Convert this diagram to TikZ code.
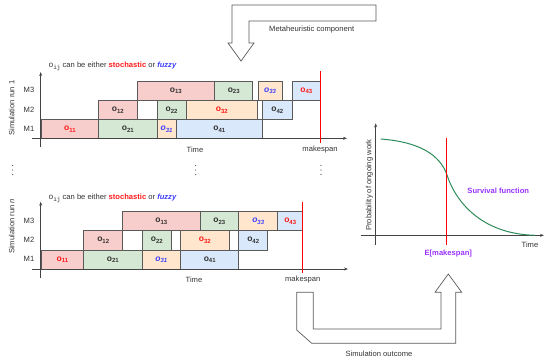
\documentclass[tikz,border=0pt]{standalone}
\usepackage{fontspec}
\setmainfont{Liberation Sans}
\setmonofont{Liberation Mono}
\usetikzlibrary{arrows.meta}
\definecolor{rfill}{HTML}{F8CECC}
\definecolor{gfill}{HTML}{D5E8D4}
\definecolor{ofill}{HTML}{FFE6CC}
\definecolor{bfill}{HTML}{DAE8FC}
\definecolor{barline}{HTML}{5A5A5A}
\definecolor{txtgray}{HTML}{333333}
\definecolor{lblred}{HTML}{FF1A1A}
\definecolor{fuzzyblue}{HTML}{3F3FFF}
\definecolor{purp}{HTML}{9933FF}
\definecolor{curvegreen}{HTML}{2E8B5A}
\definecolor{axisgray}{HTML}{444444}
\newcommand\osub[1]{o\raisebox{-0.4ex}{\fontsize{6}{6}\selectfont #1}}
\newcommand\gb[7]{\node[#1, minimum width={(#4-#3)*1pt}, minimum height={(#6-#5)*1pt}, anchor=north west] (#2) at (#3,#5) {#7};}
\newcommand\hdr{{\ttfamily\fontsize{8}{9}\selectfont o\raisebox{-0.45ex}{\fontsize{6}{6}\selectfont ij}} can be either {\color{lblred}\bfseries stochastic} or {\color{fuzzyblue}\bfseries\itshape fuzzy}}
\begin{document}
\begin{tikzpicture}[x=1pt,y=-1pt,
  every node/.style={font=\fontsize{7.6}{9}\selectfont, text=txtgray},
  barbase/.style={draw=barline, line width=0.8pt, inner sep=0pt, font=\fontsize{8.5}{9}\selectfont\bfseries, text=txtgray},
  rbar/.style={barbase, fill=rfill},
  gbar/.style={barbase, fill=gfill},
  obar/.style={barbase, fill=ofill},
  bbar/.style={barbase, fill=bfill},
  stoch/.style={text=lblred},
  fuz/.style={text=fuzzyblue, font=\fontsize{8.5}{9}\selectfont\bfseries\itshape},
  axis/.style={draw=axisgray, line width=0.7pt, -{Stealth[length=4pt,width=3pt]}},
  redline/.style={draw=red, line width=0.9pt},
  blockarrow/.style={draw=barline, line width=0.7pt, fill=white, line join=miter},
  purplab/.style={text=purp, font=\fontsize{7.6}{9}\selectfont\bfseries},
  dot/.style={fill=axisgray, circle, inner sep=0pt, minimum size=1.1pt}
]
\useasboundingbox (0,0) rectangle (550,362);

% top block arrow
\draw[blockarrow] (232,5) -- (376,5) -- (376,21) -- (249,21) -- (249,43) -- (254,43) -- (241,61) -- (228,43) -- (232,43) -- cycle;
\node (meta) at (311.7,30) {Metaheuristic component};

% ---------- Gantt run 1 ----------
\node[anchor=west] (hdr1) at (45,66.7) {\hdr};
\coordinate (y1b) at (40.7,147);
\coordinate (y1t) at (40.7,72);
\coordinate (x1l) at (32,138.3);
\coordinate (x1r) at (347,138.3);
\node (m3a) at (29,90.3) {M3};
\node (m2a) at (29,109.7) {M2};
\node (m1a) at (29,128.8) {M1};
\node[rotate=90] (sim1) at (11.7,108) {Simulation run 1};

\gb{rbar,stoch}{a11}{40.7}{98.3}{119.3}{138.3}{\osub{11}}
\gb{gbar}{a21}{98.3}{156.7}{119.3}{138.3}{\osub{21}}
\gb{obar,fuz}{a31}{156.7}{175.7}{119.3}{138.3}{\osub{31}}
\gb{bbar}{a41}{175.7}{262.3}{119.3}{138.3}{\osub{41}}
\gb{rbar}{a12}{98.3}{136.7}{100}{119.3}{\osub{12}}
\gb{gbar}{a22}{156.7}{185.7}{100}{119.3}{\osub{22}}
\gb{obar,stoch}{a32}{185.7}{257.3}{100}{119.3}{\osub{32}}
\gb{bbar}{a42}{262.3}{291.7}{100}{119.3}{\osub{42}}
\gb{rbar}{a13}{136.7}{214.3}{80.7}{100}{\osub{13}}
\gb{gbar}{a23}{214.3}{252.3}{80.7}{100}{\osub{23}}
\gb{obar,fuz}{a33}{257.7}{281.7}{80.7}{100}{\osub{33}}
\gb{bbar,stoch}{a43}{291.7}{320.3}{80.7}{100}{\osub{43}}

\draw[axis] (y1b) -- (y1t);
\draw[axis] (x1l) -- (x1r);
\coordinate (r1t) at (320.3,71);
\coordinate (r1b) at (320.3,142.7);
\draw[redline] (r1t) -- (r1b);
\node (time1) at (195,150) {Time};
\node (mk1) at (320,150) {makespan};

% vertical ellipses
\foreach \x/\n in {12.7/d1,195.7/d2,321/d3}{
  \node[dot] (\n a) at (\x,165.5) {};
  \node[dot] (\n b) at (\x,170) {};
  \node[dot] (\n c) at (\x,174.5) {};
}

% ---------- Gantt run n ----------
\node[anchor=west] (hdr2) at (45,198.3) {\hdr};
\coordinate (y2b) at (40.7,278);
\coordinate (y2t) at (40.7,201.7);
\coordinate (x2l) at (32,269);
\coordinate (x2r) at (348,269);
\node (m3b) at (29,220.7) {M3};
\node (m2b) at (29,240) {M2};
\node (m1b) at (29,259.3) {M1};
\node[rotate=90] (simn) at (11.7,226.5) {Simulation run \textit{n}};

\gb{rbar,stoch}{b11}{40.7}{83.3}{249.7}{269}{\osub{11}}
\gb{gbar}{b21}{83.3}{141.7}{249.7}{269}{\osub{21}}
\gb{obar,fuz}{b31}{141.7}{180.3}{249.7}{269}{\osub{31}}
\gb{bbar}{b41}{180.3}{238.3}{249.7}{269}{\osub{41}}
\gb{rbar}{b12}{83.3}{122.3}{230.3}{249.7}{\osub{12}}
\gb{gbar}{b22}{141.7}{171}{230.3}{249.7}{\osub{22}}
\gb{obar,stoch}{b32}{180.3}{228.7}{230.3}{249.7}{\osub{32}}
\gb{bbar}{b42}{238.3}{267.3}{230.3}{249.7}{\osub{42}}
\gb{rbar}{b13}{122.3}{199.7}{211}{230.3}{\osub{13}}
\gb{gbar}{b23}{199.7}{238.3}{211}{230.3}{\osub{23}}
\gb{obar,fuz}{b33}{238.3}{277.3}{211}{230.3}{\osub{33}}
\gb{bbar,stoch}{b43}{277.3}{302.3}{211}{230.3}{\osub{43}}

\draw[axis] (y2b) -- (y2t);
\draw[axis] (x2l) -- (x2r);
\coordinate (r2t) at (302.3,201.7);
\coordinate (r2b) at (302.3,273);
\draw[redline] (r2t) -- (r2b);
\node (time2) at (194,280) {Time};
\node (mk2) at (302.7,280) {makespan};

% ---------- Survival plot ----------
\coordinate (syb) at (375.7,245);
\coordinate (syt) at (375.7,123.3);
\coordinate (sxl) at (360.7,235.3);
\coordinate (sxr) at (544,235.3);
\draw[axis] (syb) -- (syt);
\draw[axis] (sxl) -- (sxr);
\draw[draw=curvegreen, line width=1pt] (380.7,139) .. controls (420,142) and (440,155) .. (447,175) .. controls (455,200) and (480,234) .. (535,235.3);
\coordinate (r3t) at (446.7,138.3);
\coordinate (r3b) at (446.7,245);
\draw[redline] (r3t) -- (r3b);
\node[rotate=90] (prob) at (369.3,185) {Probability of ongoing work};
\node[purplab] (surv) at (498.3,190.7) {Survival function};
\node (time3) at (530,245) {Time};
\node[purplab] (emk) at (448.3,254) {E[makespan]};

% bottom block arrow
\draw[blockarrow] (296.7,292.3) -- (313.3,292.3) -- (313.3,329) -- (441,329) -- (441,292.3) -- (435,292.3) -- (448.3,274) -- (461.7,292.3) -- (455.7,292.3) -- (455.7,343.3) -- (311.7,343.3) -- (296.7,330) -- cycle;
\node (simout) at (379,354) {Simulation outcome};
\end{tikzpicture}
\end{document}
